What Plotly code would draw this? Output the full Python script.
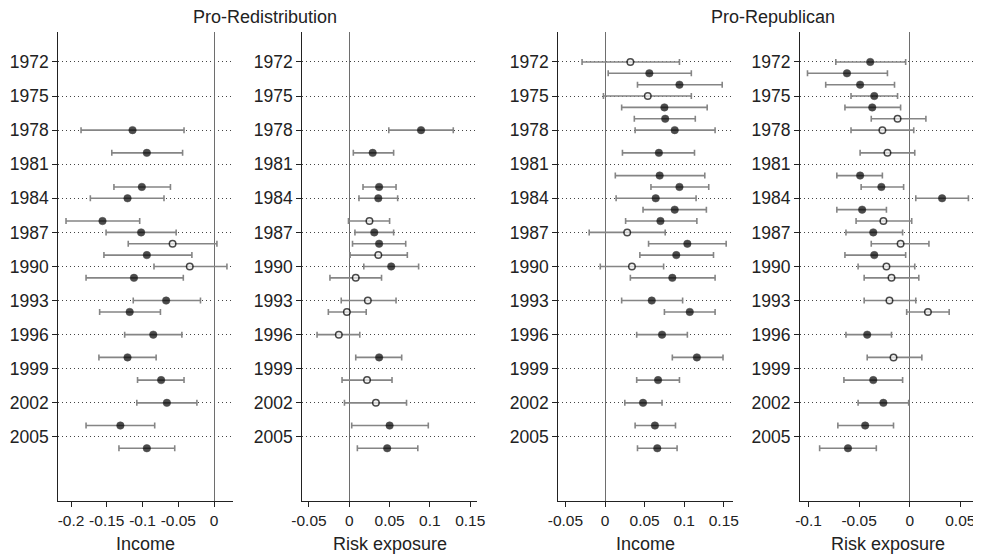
import plotly.graph_objects as go

# ---------------- data ----------------
years_a = [1978, 1980, 1983, 1984, 1986, 1987, 1988, 1989, 1990, 1991, 1993, 1994,
           1996, 1998, 2000, 2002, 2004, 2006]
years_b = [1972, 1973, 1974, 1975, 1976, 1977, 1978, 1980, 1982, 1983, 1984, 1985,
           1986, 1987, 1988, 1989, 1990, 1991, 1993, 1994, 1996, 1998, 2000, 2002,
           2004, 2006]

# Pro-Redistribution : Income
redist_income = [-0.114, -0.094, -0.101, -0.121, -0.156, -0.102, -0.058, -0.094, -0.034,
                 -0.112, -0.067, -0.118, -0.085, -0.121, -0.074, -0.066, -0.131, -0.094]
redist_income_lo = [-0.186, -0.143, -0.140, -0.173, -0.207, -0.151, -0.120, -0.154, -0.084,
                    -0.179, -0.113, -0.160, -0.125, -0.161, -0.107, -0.108, -0.179, -0.133]
redist_income_hi = [-0.042, -0.044, -0.061, -0.070, -0.104, -0.053, 0.004, -0.031, 0.018,
                    -0.043, -0.019, -0.075, -0.045, -0.081, -0.042, -0.024, -0.083, -0.055]
redist_income_sig = [1, 1, 1, 1, 1, 1, 0, 1, 0, 1, 1, 1, 1, 1, 1, 1, 1, 1]

# Pro-Redistribution : Risk exposure
redist_risk = [0.089, 0.029, 0.037, 0.036, 0.025, 0.031, 0.037, 0.036, 0.052, 0.008,
               0.023, -0.003, -0.013, 0.037, 0.022, 0.033, 0.050, 0.047]
redist_risk_lo = [0.049, 0.005, 0.017, 0.012, -0.001, 0.007, 0.004, 0.001, 0.018, -0.024,
                  -0.010, -0.026, -0.040, 0.008, -0.009, -0.006, 0.003, 0.010]
redist_risk_hi = [0.129, 0.055, 0.058, 0.060, 0.050, 0.055, 0.070, 0.072, 0.086, 0.040,
                  0.058, 0.021, 0.013, 0.065, 0.053, 0.071, 0.098, 0.085]
redist_risk_sig = [1, 1, 1, 1, 0, 1, 1, 0, 1, 0, 0, 0, 0, 1, 0, 0, 1, 1]

# Pro-Republican : Income
repub_income = [0.032, 0.056, 0.094, 0.054, 0.075, 0.076, 0.088, 0.068, 0.069, 0.094,
                0.064, 0.088, 0.070, 0.028, 0.104, 0.090, 0.034, 0.085, 0.059, 0.107,
                0.072, 0.116, 0.067, 0.048, 0.063, 0.066]
repub_income_lo = [-0.029, 0.004, 0.041, -0.002, 0.021, 0.037, 0.038, 0.022, 0.013, 0.058,
                   0.014, 0.048, 0.026, -0.020, 0.055, 0.044, -0.006, 0.032, 0.021, 0.075,
                   0.040, 0.085, 0.040, 0.025, 0.038, 0.041]
repub_income_hi = [0.094, 0.109, 0.148, 0.109, 0.129, 0.114, 0.139, 0.113, 0.126, 0.131,
                   0.115, 0.128, 0.116, 0.076, 0.153, 0.137, 0.074, 0.139, 0.098, 0.139,
                   0.104, 0.149, 0.094, 0.072, 0.089, 0.091]
repub_income_sig = [0, 1, 1, 0, 1, 1, 1, 1, 1, 1, 1, 1, 1, 0, 1, 1, 0, 1, 1, 1, 1, 1, 1,
                    1, 1, 1]

# Pro-Republican : Risk exposure
repub_risk = [-0.039, -0.062, -0.049, -0.035, -0.037, -0.012, -0.027, -0.022, -0.049,
              -0.028, 0.032, -0.047, -0.026, -0.036, -0.009, -0.035, -0.023, -0.018,
              -0.020, 0.018, -0.042, -0.016, -0.036, -0.026, -0.044, -0.061]
repub_risk_lo = [-0.073, -0.101, -0.083, -0.058, -0.064, -0.038, -0.058, -0.049, -0.072,
                 -0.048, 0.006, -0.072, -0.053, -0.063, -0.038, -0.064, -0.051, -0.045,
                 -0.045, -0.003, -0.063, -0.042, -0.065, -0.051, -0.071, -0.089]
repub_risk_hi = [-0.004, -0.022, -0.015, -0.012, -0.009, 0.016, 0.004, 0.005, -0.027,
                 -0.006, 0.058, -0.023, 0.002, -0.007, 0.019, -0.004, 0.005, 0.009,
                 0.006, 0.039, -0.018, 0.012, -0.007, -0.001, -0.016, -0.033]
repub_risk_sig = [1, 1, 1, 1, 1, 0, 0, 0, 1, 1, 1, 1, 0, 1, 0, 1, 0, 0, 0, 0, 1, 0, 1,
                  1, 1, 1]

year_ticks = [1972, 1975, 1978, 1981, 1984, 1987, 1990, 1993, 1996, 1999, 2002, 2005]
xticks_income_redist = [-0.2, -0.15, -0.1, -0.05, 0]
xticks_income_redist_text = ["-0.2", "-0.15", "-0.1", "-0.05", "0"]
xticks_pos = [-0.05, 0, 0.05, 0.1, 0.15]
xticks_pos_text = ["-0.05", "0", "0.05", "0.1", "0.15"]
xticks_risk_repub = [-0.1, -0.05, 0, 0.05]
xticks_risk_repub_text = ["-0.1", "-0.05", "0", "0.05"]

group_titles = ["Pro-Redistribution", "Pro-Republican"]
axis_titles = ["Income", "Risk exposure", "Income", "Risk exposure"]

# ---------------- layout geometry ----------------
W, H = 981, 556
OX, OY = 8.0, 8.0   # page offset of the plot div (browser body margin)
FONT = "Liberation Sans, Arial, Helvetica, sans-serif"


def fx(px):
    return (px - OX) / W


def fy(py):
    return 1 - (py - OY) / H


panels = [
    dict(years=years_a, v=redist_income, lo=redist_income_lo, hi=redist_income_hi,
         sig=redist_income_sig, px=(58.3, 233.3), rng=[-0.2178, 0.0269],
         tv=xticks_income_redist, tt=xticks_income_redist_text),
    dict(years=years_a, v=redist_risk, lo=redist_risk_lo, hi=redist_risk_hi,
         sig=redist_risk_sig, px=(302.3, 477.3), rng=[-0.0583, 0.1588],
         tv=xticks_pos, tt=xticks_pos_text),
    dict(years=years_b, v=repub_income, lo=repub_income_lo, hi=repub_income_hi,
         sig=repub_income_sig, px=(558.3, 733.3), rng=[-0.059, 0.162],
         tv=xticks_pos, tt=xticks_pos_text),
    dict(years=years_b, v=repub_risk, lo=repub_risk_lo, hi=repub_risk_hi,
         sig=repub_risk_sig, px=(800.0, 976.7), rng=[-0.1084, 0.0662],
         tv=xticks_risk_repub, tt=xticks_risk_repub_text),
]
y_top_px, y_bot_px = 32.3, 501.0
ydom = [fy(y_bot_px), fy(y_top_px)]
yrange = [2010.64, 1969.39]

fig = go.Figure()
layout = dict(
    width=W, height=H, margin=dict(l=0, r=0, t=0, b=0, autoexpand=False),
    paper_bgcolor="white", plot_bgcolor="white", showlegend=False,
    font=dict(family=FONT, color="#222"),
)
annotations = []

for i, p in enumerate(panels):
    k = "" if i == 0 else str(i + 1)
    plus = [h - v for h, v in zip(p["hi"], p["v"])]
    minus = [v - l for v, l in zip(p["v"], p["lo"])]
    colors = ["#000000" if s else "#f4f4f4" for s in p["sig"]]
    sizes = [7.5 if s else 6.5 for s in p["sig"]]
    lwid = [0.5 if s else 1.5 for s in p["sig"]]
    fig.add_trace(go.Scatter(
        x=p["v"], y=p["years"], mode="markers",
        xaxis="x" + k, yaxis="y" + k,
        marker=dict(color=colors, size=sizes, line=dict(color="#000000", width=lwid)),
        error_x=dict(type="data", symmetric=False, array=plus, arrayminus=minus,
                     color="#858585", thickness=1.6, width=3),
        hoverinfo="skip",
    ))
    layout["xaxis" + k] = dict(
        domain=[fx(p["px"][0]), fx(p["px"][1])], range=p["rng"], anchor="y" + k,
        tickmode="array", tickvals=p["tv"], ticktext=p["tt"],
        showline=True, linecolor="#222", linewidth=1.2,
        ticks="outside", ticklen=5, tickcolor="#222", tickwidth=1,
        tickfont=dict(size=15.5, family=FONT, color="#222"),
        showgrid=False, zeroline=True, zerolinecolor="#6e6e6e", zerolinewidth=1.4,
        fixedrange=True, automargin=False,
    )
    layout["yaxis" + k] = dict(
        domain=ydom, range=yrange, anchor="x" + k,
        tickmode="array", tickvals=year_ticks, ticktext=[str(y) for y in year_ticks],
        showline=True, linecolor="#222", linewidth=1.2,
        ticks="outside", ticklen=5, tickcolor="#222", tickwidth=1,
        tickfont=dict(size=17.5, family=FONT, color="#222"),
        showgrid=True, gridcolor="#444", gridwidth=1, griddash="1px,3px",
        zeroline=False, fixedrange=True, automargin=False,
    )
    annotations.append(dict(
        text=axis_titles[i], xref="paper", yref="paper",
        x=fx((p["px"][0] + p["px"][1]) / 2), y=fy(544),
        xanchor="center", yanchor="middle", showarrow=False,
        font=dict(size=18, family=FONT, color="#222"),
    ))

for title, cx in zip(group_titles, [265.0, 772.8]):
    annotations.append(dict(
        text=title, xref="paper", yref="paper", x=fx(cx), y=fy(17),
        xanchor="center", yanchor="middle", showarrow=False,
        font=dict(size=18, family=FONT, color="#222"),
    ))

layout["annotations"] = annotations
fig.update_layout(**layout)
fig.write_html("out.html")
